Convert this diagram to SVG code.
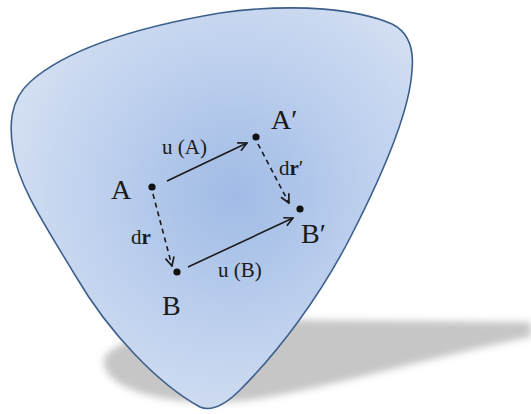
<svg xmlns="http://www.w3.org/2000/svg" width="531" height="414" viewBox="0 0 531 414">
  <defs>
    <style>
      .lbl { font-family: "Liberation Serif", "Times New Roman", serif; fill: #1a1a1a; }
      .big { font-size: 28px; }
      .sm { font-size: 21px; }
      .dot { fill: #111; }
      .solid { stroke: #1a1a1a; stroke-width: 1.6; fill: none; marker-end: url(#head); }
      .dash { stroke: #1a1a1a; stroke-width: 1.6; fill: none; stroke-dasharray: 5 4; marker-end: url(#head); }
    </style>
    <radialGradient id="bodyFill" gradientUnits="userSpaceOnUse" cx="235" cy="195" r="230">
      <stop offset="0" stop-color="#a0bbe6"/>
      <stop offset="0.55" stop-color="#bccfed"/>
      <stop offset="1" stop-color="#d2def2"/>
    </radialGradient>
    <filter id="blur" x="-10%" y="-30%" width="120%" height="160%">
      <feGaussianBlur stdDeviation="3.5"/>
    </filter>
    <marker id="head" viewBox="0 0 10 10" refX="9" refY="5" markerWidth="11" markerHeight="11" markerUnits="userSpaceOnUse" orient="auto">
      <path d="M1,1 L9,5 L1,9" fill="none" stroke="#1a1a1a" stroke-width="1.5"/>
    </marker>
  </defs>

  <g id="shadow">
    <path d="M104,362 C104,336 200,323 300,320 L531,322 L531,337 C450,352 330,388 250,400 C180,409 104,392 104,362 Z" fill="#c6c6c6" filter="url(#blur)"/>
  </g>

  <g id="body">
    <path d="M13,150 C9,125 10,100 30,82 C60,55 120,30 220,13 C300,2 360,10 392,24 C410,33 414,50 412,70 C410,110 385,170 350,238 C320,296 280,350 240,390 C225,405 212,412 200,407 C160,385 110,335 75,275 C45,225 18,185 13,150 Z" fill="url(#bodyFill)" stroke="#3d5f8c" stroke-width="1.6"/>
  </g>

  <g id="connectors">
    <line class="solid" x1="167" y1="181" x2="247" y2="143"/>
    <line class="solid" x1="188" y1="267" x2="293" y2="218"/>
    <line class="dash" x1="153" y1="194" x2="172" y2="266"/>
    <line class="dash" x1="258" y1="144" x2="289" y2="203"/>
  </g>

  <g id="node-A">
    <circle class="dot" cx="152" cy="187" r="3.6"/>
    <text class="lbl big" x="111" y="199">A</text>
  </g>
  <g id="node-A-prime">
    <circle class="dot" cx="256" cy="137" r="3.6"/>
    <text class="lbl big" x="271" y="129">A′</text>
  </g>
  <g id="node-B">
    <circle class="dot" cx="177" cy="272" r="3.6"/>
    <text class="lbl big" x="162" y="315">B</text>
  </g>
  <g id="node-B-prime">
    <circle class="dot" cx="300" cy="209" r="3.6"/>
    <text class="lbl big" x="301" y="243">B′</text>
  </g>

  <g id="labels">
    <text class="lbl sm" x="162" y="154">u (A)</text>
    <text class="lbl sm" x="218" y="277">u (B)</text>
    <text class="lbl sm" x="131" y="244">d<tspan font-weight="bold">r</tspan></text>
    <text class="lbl sm" x="279" y="175">d<tspan font-weight="bold">r</tspan>′</text>
  </g>
</svg>
